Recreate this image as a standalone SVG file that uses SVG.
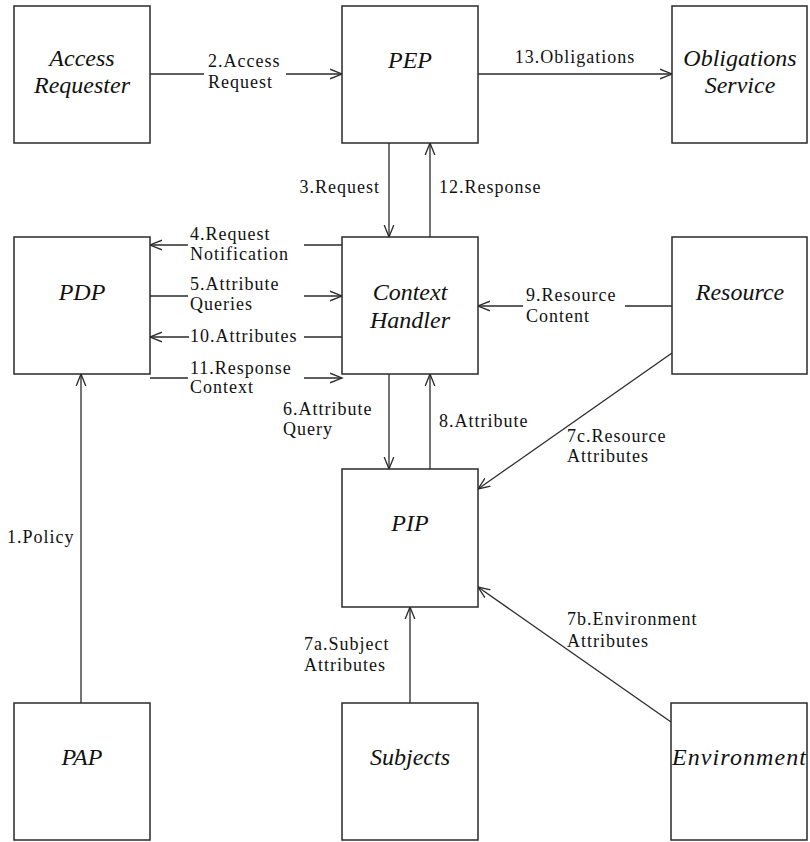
<svg xmlns="http://www.w3.org/2000/svg" width="810" height="842" viewBox="0 0 810 842">
<style>
.box{fill:#fff;stroke:#2a2a2a;stroke-width:1.5}
.nt{font-family:'Liberation Serif','Times New Roman','DejaVu Serif',serif;font-style:italic;font-size:24px;fill:#111;text-anchor:middle}
.ln{fill:none;stroke:#2a2a2a;stroke-width:1.3}
.lb{font-family:'Liberation Serif','Times New Roman','DejaVu Serif',serif;font-size:18px;letter-spacing:1px;fill:#111}
.bg{fill:#fff}
</style>
<defs>
<marker id="ah" markerUnits="userSpaceOnUse" markerWidth="14" markerHeight="12" refX="12" refY="6" orient="auto">
<path d="M0,1.2 L12,6 L0,10.8" fill="none" stroke="#2a2a2a" stroke-width="1.3"/>
</marker>
</defs>
<rect width="810" height="842" fill="#fff"/>
<g id="connectors">
<line class="ln" x1="81" y1="703" x2="81" y2="374" marker-end="url(#ah)"/>
<text class="lb" x="7" y="543">1.Policy</text>
<line class="ln" x1="150" y1="74" x2="342" y2="74" marker-end="url(#ah)"/>
<rect class="bg" x="204" y="58" width="82" height="34"/>
<text class="lb" x="208" y="67">2.Access</text>
<text class="lb" x="208" y="88">Request</text>
<line class="ln" x1="389" y1="143" x2="389" y2="237" marker-end="url(#ah)"/>
<text class="lb" x="380" y="193" text-anchor="end">3.Request</text>
<line class="ln" x1="430" y1="237" x2="430" y2="143" marker-end="url(#ah)"/>
<text class="lb" x="439" y="193">12.Response</text>
<line class="ln" x1="478" y1="74" x2="672" y2="74" marker-end="url(#ah)"/>
<text class="lb" x="575" y="63" text-anchor="middle">13.Obligations</text>
<line class="ln" x1="342" y1="245" x2="150" y2="245" marker-end="url(#ah)"/>
<rect class="bg" x="188" y="230" width="116" height="34"/>
<text class="lb" x="190" y="240">4.Request</text>
<text class="lb" x="190" y="260">Notification</text>
<line class="ln" x1="150" y1="296" x2="342" y2="296" marker-end="url(#ah)"/>
<rect class="bg" x="188" y="280" width="116" height="34"/>
<text class="lb" x="190" y="290">5.Attribute</text>
<text class="lb" x="190" y="310">Queries</text>
<line class="ln" x1="342" y1="337" x2="150" y2="337" marker-end="url(#ah)"/>
<rect class="bg" x="189" y="329" width="115" height="16"/>
<text class="lb" x="190" y="342">10.Attributes</text>
<line class="ln" x1="150" y1="378" x2="342" y2="378" marker-end="url(#ah)"/>
<rect class="bg" x="188" y="362" width="116" height="34"/>
<text class="lb" x="190" y="374">11.Response</text>
<text class="lb" x="190" y="393">Context</text>
<line class="ln" x1="672" y1="306" x2="478" y2="306" marker-end="url(#ah)"/>
<rect class="bg" x="523" y="290" width="102" height="34"/>
<text class="lb" x="526" y="301">9.Resource</text>
<text class="lb" x="526" y="322">Content</text>
<line class="ln" x1="389" y1="374" x2="389" y2="469" marker-end="url(#ah)"/>
<text class="lb" x="283" y="415">6.Attribute</text>
<text class="lb" x="283" y="435">Query</text>
<line class="ln" x1="430" y1="469" x2="430" y2="374" marker-end="url(#ah)"/>
<text class="lb" x="439" y="427">8.Attribute</text>
<line class="ln" x1="672" y1="353" x2="478" y2="489" marker-end="url(#ah)"/>
<text class="lb" x="567" y="442">7c.Resource</text>
<text class="lb" x="567" y="462">Attributes</text>
<line class="ln" x1="671" y1="722" x2="478" y2="587" marker-end="url(#ah)"/>
<text class="lb" x="567" y="625">7b.Environment</text>
<text class="lb" x="567" y="647">Attributes</text>
<line class="ln" x1="410" y1="703" x2="410" y2="607" marker-end="url(#ah)"/>
<text class="lb" x="304" y="650">7a.Subject</text>
<text class="lb" x="304" y="671">Attributes</text>
</g>
<g id="access-requester"><rect class="box" x="14" y="6" width="136" height="137"/><text class="nt" x="82" y="66">Access</text><text class="nt" x="82" y="93">Requester</text></g>
<g id="pep"><rect class="box" x="342" y="6" width="136" height="137"/><text class="nt" x="410" y="68">PEP</text></g>
<g id="obligations-service"><rect class="box" x="672" y="6" width="135" height="137"/><text class="nt" x="740" y="66">Obligations</text><text class="nt" x="740" y="93">Service</text></g>
<g id="pdp"><rect class="box" x="14" y="237" width="136" height="137"/><text class="nt" x="82" y="300">PDP</text></g>
<g id="context-handler"><rect class="box" x="342" y="237" width="136" height="137"/><text class="nt" x="410" y="300">Context</text><text class="nt" x="410" y="328">Handler</text></g>
<g id="resource"><rect class="box" x="672" y="237" width="135" height="137"/><text class="nt" x="740" y="300">Resource</text></g>
<g id="pip"><rect class="box" x="342" y="469" width="136" height="138"/><text class="nt" x="410" y="531">PIP</text></g>
<g id="pap"><rect class="box" x="14" y="703" width="136" height="137"/><text class="nt" x="82" y="765">PAP</text></g>
<g id="subjects"><rect class="box" x="342" y="703" width="136" height="137"/><text class="nt" x="410" y="765">Subjects</text></g>
<g id="environment"><rect class="box" x="671" y="703" width="136" height="137"/><text class="nt" x="739" y="765" textLength="134" lengthAdjust="spacing">Environment</text></g>
</svg>
